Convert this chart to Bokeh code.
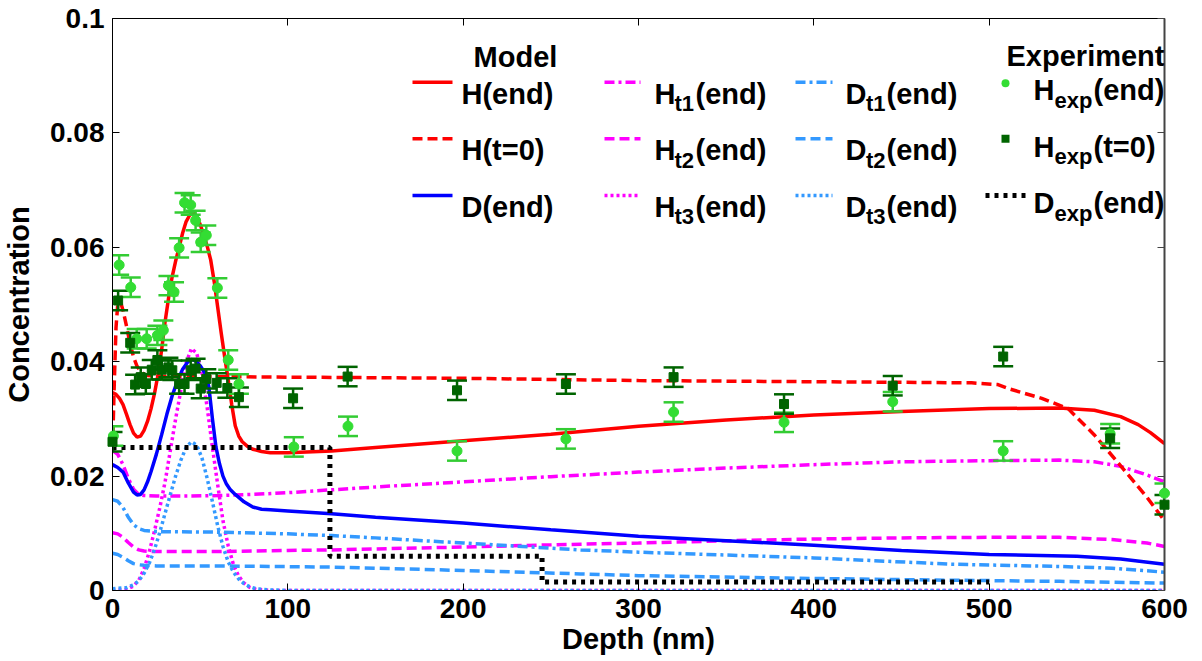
from bokeh.plotting import figure
from bokeh.models import (Range1d, FixedTicker, LinearAxis, ColumnDataSource,
                          Whisker, TeeHead, Label, Arrow, BoxAnnotation)
from bokeh.embed import file_html
from bokeh.resources import INLINE

# ---------------- data ----------------
X_TICKS = [0, 100, 200, 300, 400, 500, 600]
X_TICK_LABELS = ["0", "100", "200", "300", "400", "500", "600"]
Y_TICKS = [0, 0.02, 0.04, 0.06, 0.08, 0.1]
Y_TICK_LABELS = ["0", "0.02", "0.04", "0.06", "0.08", "0.1"]

H_end_x = [0, 2, 4, 6, 8, 10, 12, 14, 16, 18, 20, 22, 24, 26, 28, 30, 32, 34, 36, 38, 40,
           42, 44, 46, 48, 50, 52, 54, 56, 58, 60, 62, 64, 66, 68, 70, 72, 74, 77, 80, 85,
           90, 100, 125, 150, 200, 250, 300, 350, 400, 450, 500, 540, 560, 575, 585, 592, 600]
H_end_y = [0.0346, 0.0343, 0.0336, 0.0325, 0.0308, 0.0290, 0.0275, 0.0268, 0.0270, 0.0280,
           0.0296, 0.0318, 0.0345, 0.0378, 0.0420, 0.0470, 0.0512, 0.0548, 0.0576, 0.0600,
           0.0625, 0.0645, 0.0656, 0.0660, 0.0655, 0.0640, 0.0622, 0.0602, 0.0578, 0.0540,
           0.0495, 0.0450, 0.0408, 0.0368, 0.0325, 0.0288, 0.0270, 0.0260, 0.0252, 0.0247,
           0.0243, 0.0241, 0.0241, 0.0244, 0.0250, 0.0262, 0.0273, 0.0287, 0.0298, 0.0307,
           0.0313, 0.0318, 0.0319, 0.0315, 0.0304, 0.0290, 0.0276, 0.0257]

H_t0_x = [0, 1, 2, 3, 4, 5, 6, 8, 10, 12, 14, 16, 18, 20, 25, 30, 50, 100, 150, 200, 250,
          300, 350, 400, 450, 490, 505, 512, 530, 545, 560, 575, 590, 600]
H_t0_y = [0.0245, 0.0360, 0.0460, 0.0500, 0.0505, 0.0500, 0.0490, 0.0462, 0.0432, 0.0408,
          0.0392, 0.0383, 0.0378, 0.0376, 0.0375, 0.0374, 0.0374, 0.0373, 0.0372, 0.0371,
          0.0369, 0.0367, 0.0366, 0.0365, 0.0364, 0.0363, 0.0360, 0.0352, 0.0336, 0.0318,
          0.0272, 0.0218, 0.0163, 0.0122]

D_end_x = [0, 3, 6, 9, 12, 14, 16, 18, 20, 22, 25, 28, 31, 34, 37, 40, 43, 45, 47, 50, 53,
           55, 57, 59, 61, 63, 65, 67, 70, 75, 80, 85, 90, 100, 125, 150, 200, 250, 300,
           350, 400, 450, 500, 550, 575, 600]
D_end_y = [0.0220, 0.0215, 0.0207, 0.0188, 0.0172, 0.0167, 0.0168, 0.0176, 0.0190, 0.0208,
           0.0238, 0.0272, 0.0308, 0.0340, 0.0366, 0.0387, 0.0400, 0.0404, 0.0402, 0.0393,
           0.0379, 0.0355, 0.0300, 0.0251, 0.0222, 0.0200, 0.0186, 0.0177, 0.0168, 0.0155,
           0.0146, 0.0142, 0.0141, 0.0139, 0.0134, 0.0128, 0.0118, 0.0106, 0.0095, 0.0087,
           0.0079, 0.0070, 0.0063, 0.0060, 0.0055, 0.0046]

H_t1_x = [0, 3, 6, 9, 12, 15, 18, 25, 40, 60, 80, 100, 125, 150, 200, 250, 300, 350, 400,
          450, 500, 540, 560, 575, 590, 600]
H_t1_y = [0.0245, 0.0238, 0.0220, 0.0196, 0.0177, 0.0168, 0.0166, 0.0165, 0.0165, 0.0166,
          0.0168, 0.0171, 0.0176, 0.0181, 0.0190, 0.0199, 0.0207, 0.0214, 0.0220, 0.0225,
          0.0227, 0.0228, 0.0225, 0.0217, 0.0202, 0.0190]

H_t2_x = [0, 3, 6, 9, 12, 15, 18, 25, 60, 100, 125, 200, 267, 300, 350, 400, 450, 500, 540,
          570, 590, 600]
H_t2_y = [0.0101, 0.0099, 0.0093, 0.0084, 0.0076, 0.0071, 0.0069, 0.0068, 0.0068, 0.0070,
          0.0071, 0.0076, 0.0081, 0.0083, 0.0087, 0.0090, 0.0092, 0.0093, 0.0093, 0.0089,
          0.0083, 0.0077]

H_t3_x = [0, 8, 12, 15, 18, 21, 24, 27, 30, 33, 36, 39, 42, 45, 48, 51, 54, 57, 60, 63, 66,
          69, 72, 75, 78, 82, 90, 100, 600]
H_t3_y = [0.0, 0.0002, 0.0008, 0.0018, 0.0038, 0.0068, 0.0105, 0.0145, 0.0190, 0.0245,
          0.0300, 0.0350, 0.0398, 0.0423, 0.0415, 0.0380, 0.0320, 0.0250, 0.0185, 0.0122,
          0.0078, 0.0045, 0.0025, 0.0013, 0.0006, 0.0002, 0.0, 0.0, 0.0]

D_t1_x = [0, 3, 6, 9, 12, 15, 18, 25, 60, 100, 125, 150, 200, 267, 300, 350, 400, 478, 540,
          570, 600]
D_t1_y = [0.0159, 0.0156, 0.0145, 0.0128, 0.0115, 0.0108, 0.0105, 0.0103, 0.0102, 0.0099,
          0.0096, 0.0092, 0.0083, 0.0071, 0.0067, 0.0062, 0.0057, 0.0046, 0.0042, 0.0039,
          0.0032]

D_t2_x = [0, 3, 6, 9, 12, 15, 18, 25, 60, 125, 200, 267, 300, 400, 478, 540, 600]
D_t2_y = [0.0065, 0.0063, 0.0058, 0.0052, 0.0047, 0.0045, 0.0044, 0.0043, 0.0043, 0.0041,
          0.0035, 0.0029, 0.0026, 0.0021, 0.0018, 0.0016, 0.0013]

D_t3_x = [0, 8, 12, 15, 18, 21, 24, 27, 30, 33, 36, 39, 42, 45, 48, 51, 54, 57, 60, 63, 66,
          69, 72, 75, 78, 82, 90, 100, 600]
D_t3_y = [0.0003, 0.0005, 0.0010, 0.0017, 0.0030, 0.0048, 0.0072, 0.0102, 0.0135, 0.0168,
          0.0200, 0.0228, 0.0250, 0.0260, 0.0254, 0.0232, 0.0196, 0.0155, 0.0113, 0.0077,
          0.0050, 0.0032, 0.0020, 0.0012, 0.0007, 0.0003, 0.0001, 0.0, 0.0]

D_exp_x = [0, 124, 124, 245, 245, 500]
D_exp_y = [0.025, 0.025, 0.0060, 0.0060, 0.0015, 0.0015]

H_exp_end_x = [0.5, 3.8, 10.4, 13.8, 19.5, 25.6, 29.0, 31.9, 35.1, 38.0, 41.1, 44.6, 47.4,
               50.3, 53.5, 59.8, 66.0, 72.1, 103.4, 134.3, 196.5, 258.6, 320, 383, 445, 508,
               569, 600]
H_exp_end_y = [0.0270, 0.0569, 0.0530, 0.0440, 0.0440, 0.0446, 0.0455, 0.0533, 0.0522,
               0.0599, 0.0678, 0.0674, 0.0647, 0.0609, 0.0621, 0.0529, 0.0403, 0.0361,
               0.0251, 0.0287, 0.0244, 0.0265, 0.0312, 0.0294, 0.0330, 0.0244, 0.0274,
               0.0170]

H_exp_t0_x = [0, 3.2, 10.1, 12.9, 16.1, 19.0, 22.4, 25.6, 28.1, 31.9, 34.1, 38.0, 41.1, 44.6,
              47.4, 50.3, 53.5, 59.4, 65.5, 72.1, 103.0, 134.1, 196.5, 258.6, 320, 383, 445,
              508, 569, 600]
H_exp_t0_y = [0.0260, 0.0507, 0.0433, 0.0360, 0.0373, 0.0361, 0.0386, 0.0403, 0.0386,
              0.0390, 0.0385, 0.0361, 0.0361, 0.0385, 0.0388, 0.0353, 0.0370, 0.0363,
              0.0354, 0.0338, 0.0336, 0.0374, 0.0350, 0.0361, 0.0373, 0.0326, 0.0358,
              0.0409, 0.0266, 0.0150]

ERR = 0.0017  # half height of the error bars

# ---------------- styles ----------------
FONT = "Liberation Sans"
RED, MAG, BLUE, LBLUE = "#ff0000", "#ff00ff", "#0000ff", "#3399ff"
LGREEN, LGREEN_BAR, DGREEN = "#33dd33", "#33cc33", "#006400"
DASH, DASHDOT, DOT = "10 5", "10 4 3 4", "3 3"

STYLES = {
    "H_end": (RED, "solid", 3.5),
    "H_t0": (RED, DASH, 3.5),
    "D_end": (BLUE, "solid", 3.5),
    "H_t1": (MAG, DASHDOT, 3.5),
    "H_t2": (MAG, DASH, 3.5),
    "H_t3": (MAG, DOT, 3.5),
    "D_t1": (LBLUE, DASHDOT, 3.5),
    "D_t2": (LBLUE, DASH, 3.5),
    "D_t3": (LBLUE, DOT, 3.5),
    "D_exp": ("black", "4 5", 5),
}

p = figure(width=1202, height=661, output_backend="svg", toolbar_location=None,
           x_range=Range1d(0, 600), y_range=Range1d(0, 0.1),
           min_border_left=110, min_border_right=38, min_border_top=18, min_border_bottom=71,
           outline_line_color=None, background_fill_color="white", border_fill_color="white")
p.xgrid.visible = False
p.ygrid.visible = False

# ---------------- axes ----------------
def style_axis(ax):
    ax.major_label_text_font = FONT
    ax.major_label_text_font_style = "bold"
    ax.major_label_text_font_size = "28px"
    ax.major_label_text_color = "black"
    ax.axis_label_text_font = FONT
    ax.axis_label_text_font_style = "bold"
    ax.axis_label_text_font_size = "29px"
    ax.axis_label_text_color = "black"
    ax.major_tick_in = 7
    ax.major_tick_out = 0
    ax.minor_tick_line_color = None
    ax.axis_line_color = "black"
    ax.major_tick_line_color = "black"
    ax.major_label_standoff = 8

xa = p.xaxis[0]
ya = p.yaxis[0]
style_axis(xa)
style_axis(ya)
xa.ticker = FixedTicker(ticks=X_TICKS)
ya.ticker = FixedTicker(ticks=Y_TICKS)
xa.major_label_overrides = dict(zip(X_TICKS, X_TICK_LABELS))
ya.major_label_overrides = dict(zip(Y_TICKS, Y_TICK_LABELS))
xa.axis_label = "Depth (nm)"
ya.axis_label = "Concentration"
xa.axis_label_standoff = 2
ya.axis_label_standoff = 12

for loc, ticks, col, w in (("right", Y_TICKS, "#444444", 2), ("above", X_TICKS, "black", 1)):
    ax = LinearAxis(ticker=FixedTicker(ticks=ticks), major_label_text_font_size="1px",
                    major_label_text_color=None, axis_line_color=col, axis_line_width=w,
                    major_tick_line_color=col, major_tick_in=7, major_tick_out=0,
                    minor_tick_line_color=None, major_label_standoff=0)
    p.add_layout(ax, loc)

# ---------------- model curves ----------------
series = [
    ("H_t1", H_t1_x, H_t1_y), ("H_t2", H_t2_x, H_t2_y), ("H_t3", H_t3_x, H_t3_y),
    ("D_t1", D_t1_x, D_t1_y), ("D_t2", D_t2_x, D_t2_y), ("D_t3", D_t3_x, D_t3_y),
    ("D_end", D_end_x, D_end_y), ("H_t0", H_t0_x, H_t0_y), ("H_end", H_end_x, H_end_y),
]
for key, xs, ys in series:
    c, d, w = STYLES[key]
    p.line(xs, ys, line_color=c, line_dash=d, line_width=w)

# ---------------- experiment ----------------
src_end = ColumnDataSource(dict(x=H_exp_end_x, y=H_exp_end_y,
                                lo=[v - ERR for v in H_exp_end_y],
                                hi=[v + ERR for v in H_exp_end_y]))
src_t0 = ColumnDataSource(dict(x=H_exp_t0_x, y=H_exp_t0_y,
                               lo=[v - ERR for v in H_exp_t0_y],
                               hi=[v + ERR for v in H_exp_t0_y]))

for src, col in ((src_end, LGREEN_BAR), (src_t0, DGREEN)):
    wk = Whisker(source=src, base="x", lower="lo", upper="hi", dimension="height",
                 line_color=col, line_width=2.5, level="glyph",
                 lower_head=TeeHead(size=20, line_color=col, line_width=2.5),
                 upper_head=TeeHead(size=20, line_color=col, line_width=2.5))
    p.add_layout(wk)

c, d, w = STYLES["D_exp"]
p.line(D_exp_x, D_exp_y, line_color=c, line_dash=d, line_width=w)

p.scatter("x", "y", source=src_end, marker="circle", size=10, fill_color=LGREEN,
          line_color=LGREEN, level="annotation")
p.scatter("x", "y", source=src_t0, marker="square", size=9, fill_color=DGREEN,
          line_color=DGREEN, level="annotation")

# ---------------- legend (drawn by hand, screen units of the frame) ----------------
FL, FB = 110, 590  # frame left / bottom in canvas pixels


def text(x, y, s, size="29px", align="left"):
    p.add_layout(Label(x=x - FL, y=FB - y, x_units="screen", y_units="screen", text=s,
                       text_font=FONT, text_font_style="bold", text_font_size=size,
                       text_color="black", text_align=align, text_baseline="alphabetic"))


def sample(x0, x1, y, key):
    c, d, w = STYLES[key]
    p.add_layout(Arrow(start=None, end=None, x_start=x0 - FL, y_start=FB - y,
                       x_end=x1 - FL, y_end=FB - y, start_units="screen", end_units="screen",
                       line_color=c, line_dash=d, line_width=w))


def marker(x, y, color, radius):
    p.add_layout(BoxAnnotation(left=x - 4 - FL, right=x + 4 - FL, bottom=FB - y - 4,
                               top=FB - y + 4, left_units="screen", right_units="screen",
                               top_units="screen", bottom_units="screen",
                               fill_color=color, fill_alpha=1, line_color=None,
                               border_radius=radius))


ROW_BASE = [93, 149.5, 206]
EXP_BASE = [89.5, 146, 202.5]
ROW_LINE = [81.7, 138.3, 195]
SUB_DY = 10

text(513, 56, "Model", align="center")
text(1083, 55.5, "Experiment", align="center")

for i, (key, lab) in enumerate((("H_end", "H(end)"), ("H_t0", "H(t=0)"), ("D_end", "D(end)"))):
    sample(410, 450, ROW_LINE[i], key)
    text(459, ROW_BASE[i], lab)

for i, key in enumerate(("H_t1", "H_t2", "H_t3")):
    sample(602, 638, ROW_LINE[i], key)
    text(652, ROW_BASE[i], "H")
    text(672, ROW_BASE[i] + SUB_DY, "t%d" % (i + 1), size="22px")
    text(693, ROW_BASE[i], "(end)")

for i, key in enumerate(("D_t1", "D_t2", "D_t3")):
    sample(793, 830, ROW_LINE[i], key)
    text(843, ROW_BASE[i], "D")
    text(863.5, ROW_BASE[i] + SUB_DY, "t%d" % (i + 1), size="22px")
    text(884, ROW_BASE[i], "(end)")

marker(1003, 82.7, LGREEN, 4)
marker(1003, 138.3, DGREEN, 0)
sample(983, 1023, 195, "D_exp")
for i, (a, b) in enumerate((("H", "(end)"), ("H", "(t=0)"), ("D", "(end)"))):
    text(1031, EXP_BASE[i], a)
    text(1052, EXP_BASE[i] + SUB_DY, "exp", size="22px")
    text(1091, EXP_BASE[i], b)

open("out.html", "w").write(file_html(p, INLINE))
